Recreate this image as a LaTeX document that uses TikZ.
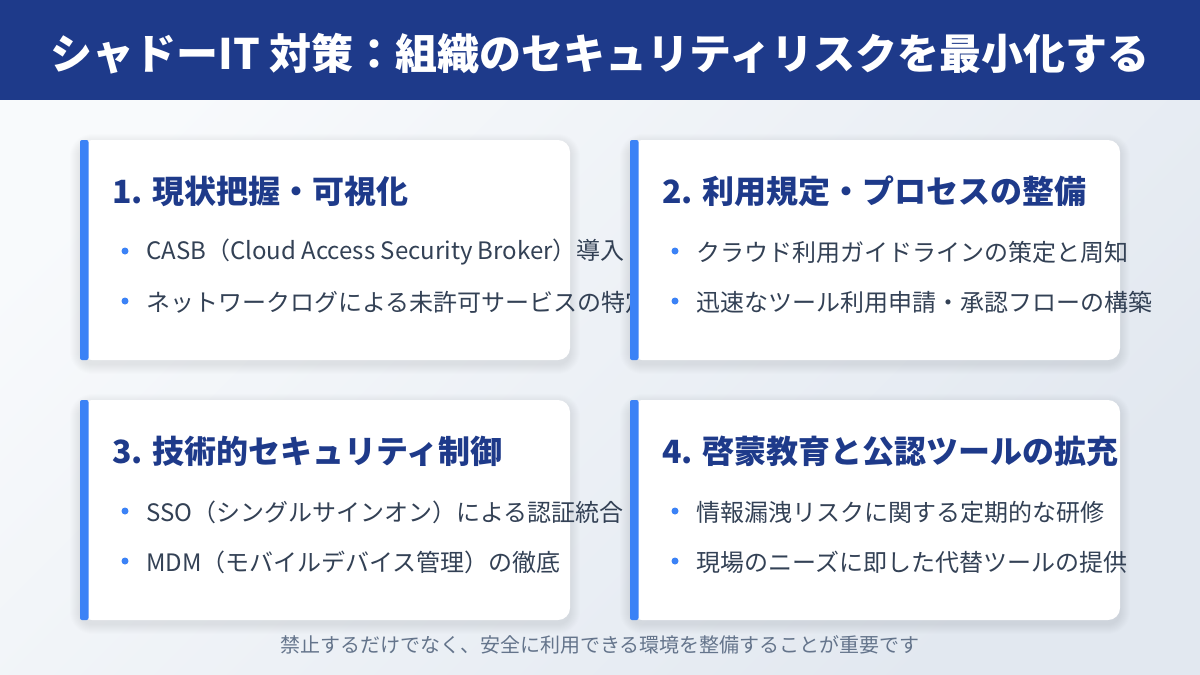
\documentclass[tikz,border=0pt]{standalone}
\usepackage{fontspec}
\setmainfont{Noto Sans CJK JP}
\definecolor{navy}{HTML}{1E3A8A}
\definecolor{accent}{HTML}{3B82F6}
\definecolor{slate}{HTML}{334155}
\definecolor{muted}{HTML}{64748B}
\definecolor{bgtop}{HTML}{F8FAFC}
\definecolor{bgbot}{HTML}{E2E8F0}
\definecolor{shade}{HTML}{1E293B}
\tikzset{
  card/.style={fill=white, rounded corners=12pt},
  cardshadow/.style={fill=shade, fill opacity=0.009},
  cardbar/.style={fill=accent, rounded corners=2pt},
  head/.style={anchor=west, inner sep=0pt, text=navy, font=\fontsize{32}{36}\selectfont\bfseries},
  item/.style={anchor=west, inner sep=0pt, text=slate, font=\fontsize{24}{28}\selectfont},
  dot/.style={circle, fill=accent, inner sep=0pt, minimum size=7pt}
}
\begin{document}
\begin{tikzpicture}[x=1pt,y=-1pt]
\useasboundingbox (0,0) rectangle (1200,675);
\shade[top color=bgtop, bottom color=bgbot, shading angle=45] (0,0) rectangle (1200,675);
\fill[navy] (0,0) rectangle (1200,100);
\node[text=white, font=\fontsize{42}{48}\selectfont\bfseries] (title) at (600,54) {シャドーIT 対策：組織のセキュリティリスクを最小化する};
% four cards, drawn in order so later ones cover overflow
\foreach \cx/\cy/\n/\hd/\ia/\ib in {
  80/140/1/現状把握・可視化/CASB（Cloud Access Security Broker）導入/ネットワークログによる未許可サービスの特定,
  630/140/2/利用規定・プロセスの整備/クラウド利用ガイドラインの策定と周知/迅速なツール利用申請・承認フローの構築,
  80/400/3/技術的セキュリティ制御/SSO（シングルサインオン）による認証統合/MDM（モバイルデバイス管理）の徹底,
  630/400/4/啓蒙教育と公認ツールの拡充/情報漏洩リスクに関する定期的な研修/現場のニーズに即した代替ツールの提供}{
  % soft shadow
  \foreach \s in {1,...,10}
    \fill[cardshadow, rounded corners=12pt+\s pt] (\cx-\s,\cy+4-\s) rectangle (\cx+490+\s,\cy+224+\s);
  \fill[card] (\cx,\cy) rectangle ++(490,220);
  \fill[cardbar] (\cx,\cy) rectangle ++(8.5,220);
  \node[head] (head\n) at (\cx+32,\cy+51) {\n. \hd};
  \node[dot] (dotA\n) at (\cx+45,\cy+111) {};
  \node[item] (itemA\n) at (\cx+66,\cy+112) {\ia};
  \node[dot] (dotB\n) at (\cx+45,\cy+161) {};
  \node[item] (itemB\n) at (\cx+66,\cy+162) {\ib};
}
\node[text=muted, font=\fontsize{20}{24}\selectfont] (note) at (600,645) {禁止するだけでなく、安全に利用できる環境を整備することが重要です};
\end{tikzpicture}
\end{document}
